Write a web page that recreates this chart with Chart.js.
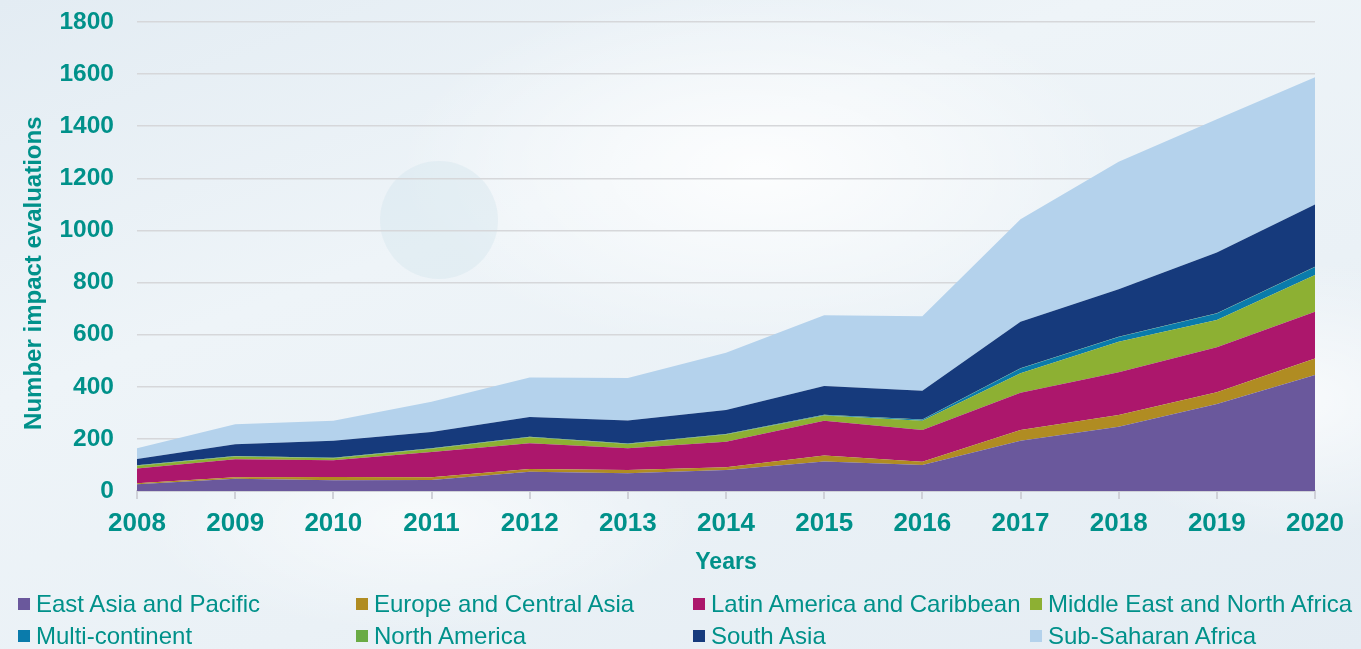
<!DOCTYPE html>
<html>
<head>
<meta charset="utf-8">
<script src="https://cdn.jsdelivr.net/npm/chart.js@4.4.1/dist/chart.umd.min.js"></script>
<style>
  html, body {
    margin: 0;
    padding: 0;
  }
  body {
    width: 1361px;
    height: 649px;
    overflow: hidden;
    position: relative;
    background:
      radial-gradient(ellipse 520px 260px at 760px 170px, rgba(255,255,255,0.85), rgba(255,255,255,0) 70%),
      radial-gradient(ellipse 300px 200px at 1300px 400px, rgba(255,255,255,0.7), rgba(255,255,255,0) 70%),
      radial-gradient(ellipse 400px 160px at 420px 520px, rgba(255,255,255,0.6), rgba(255,255,255,0) 70%),
      linear-gradient(160deg, #e3ecf3 0%, #eef4f8 35%, #eaf1f6 65%, #e4ecf3 100%);
    font-family: 'Liberation Sans', Arial, sans-serif;
  }
  .deco-circle {
    position: absolute;
    left: 380px;
    top: 161px;
    width: 118px;
    height: 118px;
    border-radius: 50%;
    background: rgba(205, 225, 235, 0.35);
  }
  .chart-holder {
    position: absolute;
    left: 0;
    top: 0;
    width: 1361px;
    height: 649px;
  }
  .legend-item {
    position: absolute;
    height: 30px;
    display: flex;
    align-items: center;
    color: #00918a;
    font-size: 24px;
    white-space: nowrap;
  }
  .legend-item span {
    display: inline-block;
    width: 12px;
    height: 12px;
    margin-right: 6px;
  }
</style>
</head>
<body>
<div class="deco-circle"></div>
<div class="chart-holder"><canvas id="chart"></canvas></div>
<div id="legend"></div>
<script>
const years = ['2008', '2009', '2010', '2011', '2012', '2013', '2014', '2015', '2016', '2017', '2018', '2019', '2020']

const eastAsiaPacific = [26, 47, 41, 42, 74, 68, 81, 113, 100, 193, 247, 334, 445]
const europeCentralAsia = [4, 6, 13, 11, 10, 13, 10, 23, 12, 41, 45, 45, 64]
const latinAmericaCaribbean = [56, 69, 64, 97, 99, 83, 98, 134, 122, 143, 164, 173, 179]
const middleEastNorthAfrica = [11, 10, 8, 12, 23, 16, 28, 20, 36, 75, 117, 104, 141]
const multiContinent = [1, 1, 1, 1, 1, 1, 1, 2, 3, 18, 18, 25, 31]
const northAmerica = [1, 1, 1, 1, 1, 1, 1, 1, 1, 1, 1, 1, 1]
const southAsia = [24, 45, 65, 62, 76, 89, 92, 110, 111, 179, 182, 233, 239]
const subSaharanAfrica = [41, 77, 77, 117, 152, 163, 220, 272, 286, 393, 490, 512, 488]

const yTicks = [0, 200, 400, 600, 800, 1000, 1200, 1400, 1600, 1800]

const series = [
  { label: 'East Asia and Pacific', data: eastAsiaPacific, color: '#6a589c' },
  { label: 'Europe and Central Asia', data: europeCentralAsia, color: '#b08c22' },
  { label: 'Latin America and Caribbean', data: latinAmericaCaribbean, color: '#ac176c' },
  { label: 'Middle East and North Africa', data: middleEastNorthAfrica, color: '#8db033' },
  { label: 'Multi-continent', data: multiContinent, color: '#0a7bab' },
  { label: 'North America', data: northAmerica, color: '#6aab45' },
  { label: 'South Asia', data: southAsia, color: '#163a7c' },
  { label: 'Sub-Saharan Africa', data: subSaharanAfrica, color: '#b4d2ec' }
]

const teal = '#00918a'
Chart.defaults.font.family = '\'Liberation Sans\', Arial, sans-serif'

new Chart(document.getElementById('chart'), {
  type: 'line',
  data: {
    labels: years,
    datasets: series.map((s, i) => ({
      label: s.label,
      data: s.data,
      backgroundColor: s.color,
      borderColor: s.color,
      borderWidth: 0,
      pointRadius: 0,
      tension: 0,
      fill: i === 0 ? 'origin' : '-1'
    }))
  },
  options: {
    responsive: true,
    maintainAspectRatio: false,
    animation: false,
    layout: {
      padding: { top: 22, right: 46, left: 0, bottom: 70 }
    },
    plugins: {
      legend: { display: false },
      tooltip: { enabled: false }
    },
    scales: {
      x: {
        afterFit: (axis) => {
          axis.height = 88
          axis.paddingLeft = 0
          axis.paddingRight = 0
        },
        border: { display: true, color: '#cfd1d8', width: 2 },
        grid: {
          drawOnChartArea: false,
          drawTicks: true,
          tickLength: 8,
          color: '#cfd1d8',
          lineWidth: 2
        },
        ticks: {
          color: teal,
          padding: 9,
          maxRotation: 0,
          font: { size: 26, weight: 'bold' }
        },
        title: {
          display: true,
          text: 'Years',
          color: teal,
          padding: { top: 0, bottom: 3 },
          font: { size: 23, weight: 'bold' }
        }
      },
      y: {
        stacked: true,
        min: 0,
        max: 1800,
        afterFit: (axis) => {
          axis.width = 137
          axis.paddingTop = 0
          axis.paddingBottom = 0
        },
        afterBuildTicks: (axis) => { axis.ticks = yTicks.map(v => ({ value: v })) },
        border: { display: false },
        grid: {
          drawTicks: false,
          color: '#d6d7da',
          lineWidth: 1.5
        },
        ticks: {
          color: teal,
          padding: 23,
          callback: (v) => String(v),
          font: { size: 24.5, weight: 'bold' }
        },
        title: {
          display: true,
          // trailing spaces nudge the rotated title down a bit, like the original
          text: 'Number impact evaluations     ',
          color: teal,
          padding: { top: 20, bottom: 0 },
          font: { size: 24, weight: 'bold' }
        }
      }
    }
  }
})

// html legend, 4 columns x 2 rows
const legendCols = [18, 356, 693, 1030]
const legendRows = [589, 621]
const legend = document.getElementById('legend')
series.forEach((s, i) => {
  const item = document.createElement('div')
  item.className = 'legend-item'
  item.style.left = legendCols[i % 4] + 'px'
  item.style.top = legendRows[Math.floor(i / 4)] + 'px'
  const box = document.createElement('span')
  box.style.background = s.color
  item.append(box)
  item.append(document.createTextNode(s.label))
  legend.append(item)
})
</script>
</body>
</html>
